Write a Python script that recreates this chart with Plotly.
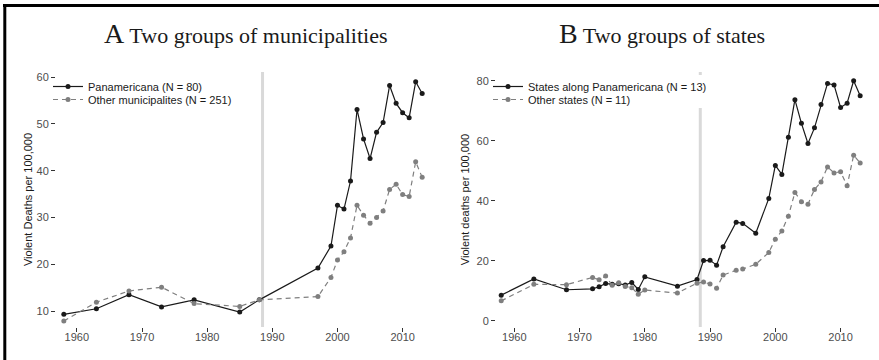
import plotly.graph_objects as go

# ---- data ----
years_mun = [1958, 1963, 1968, 1973, 1978, 1985, 1988, 1997, 1999, 2000, 2001, 2002,
             2003, 2004, 2005, 2006, 2007, 2008, 2009, 2010, 2011, 2012, 2013]
pan_mun = [9.3, 10.5, 13.5, 10.9, 12.4, 9.8, 12.4, 19.2, 23.9, 32.6, 31.8, 37.8,
           53.1, 46.8, 42.6, 48.2, 50.3, 58.2, 54.4, 52.4, 51.3, 59.0, 56.5]
oth_mun = [7.9, 11.9, 14.3, 15.1, 11.6, 11.0, 12.4, 13.1, 17.2, 20.9, 22.7, 25.6,
           32.6, 30.5, 28.8, 30.0, 31.4, 36.0, 37.1, 34.9, 34.5, 41.9, 38.6]

years_st = [1958, 1963, 1968, 1972, 1973, 1974, 1975, 1976, 1977, 1978, 1979, 1980,
            1985, 1988, 1989, 1990, 1991, 1992, 1994, 1995, 1997, 1999, 2000, 2001,
            2002, 2003, 2004, 2005, 2006, 2007, 2008, 2009, 2010, 2011, 2012, 2013]
pan_st = [8.6, 14.0, 10.4, 10.7, 11.4, 12.5, 12.2, 12.4, 12.0, 12.8, 10.5, 14.7,
          11.6, 13.8, 20.1, 20.2, 18.6, 24.7, 32.9, 32.5, 29.2, 40.8, 51.8, 48.8,
          61.2, 73.7, 65.8, 59.1, 64.3, 72.1, 79.1, 78.6, 71.1, 72.5, 80.0, 75.0]
oth_st = [6.7, 12.2, 12.1, 14.5, 13.7, 15.0, 11.9, 12.7, 11.5, 11.1, 8.9, 10.3,
          9.3, 12.6, 13.0, 12.3, 10.9, 15.3, 16.9, 17.3, 18.9, 22.8, 27.2, 30.0,
          34.9, 42.8, 39.7, 38.9, 43.8, 46.3, 51.3, 49.3, 49.7, 45.0, 55.2, 52.6]

names_mun = ["Panamericana (N = 80)", "Other municipalites (N = 251)"]
names_st = ["States along Panamericana (N = 13)", "Other states (N = 11)"]
titles = [("A", "Two groups of municipalities"), ("B", "Two groups of states")]
ylabels = ["Violent Deaths per 100,000", "Violent deaths per 100,000"]
xticks = [1960, 1970, 1980, 1990, 2000, 2010]
yticks_mun = [10, 20, 30, 40, 50, 60]
yticks_st = [0, 20, 40, 60, 80]
cutoff_year = 1988.5

W, H = 879, 360
BLACK = "#1a1a1a"
GRAY = "#7f7f7f"
SANS = "Liberation Sans, Arial, sans-serif"

def px(x):
    return x / W

def py(y):
    return 1 - y / H

fig = go.Figure()

def add_pair(years, a, b, names, xa, ya, legs):
    fig.add_trace(go.Scatter(x=years, y=a, name=names[0], mode="lines+markers",
                             line=dict(color=BLACK, width=1.2),
                             marker=dict(color=BLACK, size=5),
                             xaxis=xa, yaxis=ya, legend=legs[0]))
    fig.add_trace(go.Scatter(x=years, y=b, name=names[1], mode="lines+markers",
                             line=dict(color=GRAY, width=1.2, dash="5px,4px"),
                             marker=dict(color=GRAY, size=5),
                             xaxis=xa, yaxis=ya, legend=legs[1]))

add_pair(years_mun, pan_mun, oth_mun, names_mun, "x", "y", ["legend", "legend2"])
add_pair(years_st, pan_st, oth_st, names_st, "x2", "y2", ["legend3", "legend4"])

ydom = [py(327), py(72)]
axis_common = dict(showgrid=False, zeroline=False, showline=False, ticks="outside",
                   ticklen=4, tickwidth=1, tickcolor="#333333", automargin=False,
                   tickfont=dict(family=SANS, size=11, color="#4d4d4d"))

def leg(xpix, ypix):
    return dict(x=px(xpix), y=py(ypix), xanchor="left", yanchor="top",
                bgcolor="rgba(0,0,0,0)", borderwidth=0,
                font=dict(family=SANS, size=11, color="#1a1a1a"))

fig.update_layout(
    width=W, height=H, template="none",
    margin=dict(l=0, r=0, t=0, b=0),
    paper_bgcolor="white", plot_bgcolor="white",
    showlegend=True,
    xaxis=dict(domain=[px(56), px(430)], range=[1956.8, 2014.2], tickvals=xticks,
               anchor="y", ticklabelstandoff=-4, **axis_common),
    yaxis=dict(domain=ydom, range=[6.6, 61.1], tickvals=yticks_mun, anchor="x",
               title=dict(text=ylabels[0], standoff=1,
                          font=dict(family=SANS, size=11, color="#1a1a1a")),
               **axis_common),
    xaxis2=dict(domain=[px(496), px(868)], range=[1957.2, 2014.2], tickvals=xticks,
                anchor="y2", ticklabelstandoff=-4, **axis_common),
    yaxis2=dict(domain=ydom, range=[-2.0, 82.9], tickvals=yticks_st, anchor="x2",
                title=dict(text=ylabels[1], standoff=4,
                           font=dict(family=SANS, size=11, color="#1a1a1a")),
                **axis_common),
    legend=leg(48, 72),
    legend2=leg(48, 85),
    legend3=leg(488, 72),
    legend4=leg(488, 85),
)

# vertical reference lines (right one interrupted where the legend box sits)
fig.add_shape(type="line", xref="x", yref="y domain", x0=cutoff_year, x1=cutoff_year,
              y0=0, y1=1, line=dict(color="#d9d9d9", width=3), layer="below")
gap_lo = (327 - 108) / (327 - 72)
gap_hi = (327 - 75) / (327 - 72)
fig.add_shape(type="line", xref="x2", yref="y2 domain", x0=cutoff_year, x1=cutoff_year,
              y0=0, y1=gap_lo, line=dict(color="#d9d9d9", width=3), layer="below")
fig.add_shape(type="line", xref="x2", yref="y2 domain", x0=cutoff_year, x1=cutoff_year,
              y0=gap_hi, y1=1, line=dict(color="#d9d9d9", width=3), layer="below")

# frame lines (top and left)
fig.add_shape(type="line", xref="paper", yref="paper", x0=px(3), x1=1.0, y0=py(5.5), y1=py(5.5),
              line=dict(color="black", width=3))
fig.add_shape(type="line", xref="paper", yref="paper", x0=px(4.8), x1=px(4.8), y0=0, y1=py(4),
              line=dict(color="black", width=3))

# panel titles
title_pos = [245, 662]
for (letter, txt), xc in zip(titles, title_pos):
    fig.add_annotation(xref="paper", yref="paper", x=px(xc), y=py(51), xanchor="center",
                       yanchor="bottom", showarrow=False,
                       text=f"<span style='font-size:28px'>{letter}</span> {txt}",
                       font=dict(family="Liberation Serif, Times New Roman, serif", size=22, color="#1a1a1a"))

fig.write_html("out.html", config={"displayModeBar": False},
               post_script="document.body.style.margin='0';")
